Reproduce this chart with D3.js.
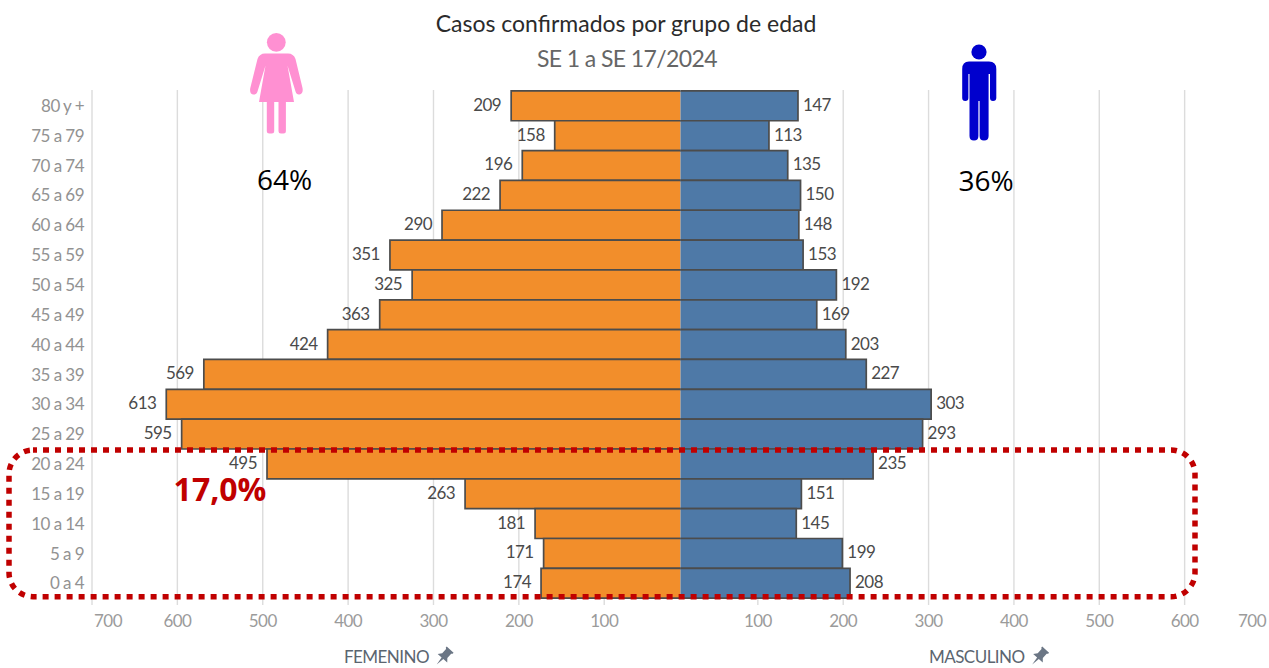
<!DOCTYPE html>
<html>
<head>
<meta charset="utf-8">
<script src="https://cdn.jsdelivr.net/npm/d3@7"></script>
<style>
  html, body { margin: 0; padding: 0; background: #fff; overflow: hidden; }
  svg { display: block; }
  text { font-family: Lato, "Noto Sans", sans-serif; }
</style>
</head>
<body>
<svg id="chart" width="1269" height="668"></svg>
<script>
// Data, top row first
const grupos = ["80 y +", "75 a 79", "70 a 74", "65 a 69", "60 a 64", "55 a 59", "50 a 54", "45 a 49", "40 a 44",
  "35 a 39", "30 a 34", "25 a 29", "20 a 24", "15 a 19", "10 a 14", "5 a 9", "0 a 4"];
const femenino = [209, 158, 196, 222, 290, 351, 325, 363, 424, 569, 613, 595, 495, 263, 181, 171, 174];
const masculino = [147, 113, 135, 150, 148, 153, 192, 169, 203, 227, 303, 293, 235, 151, 145, 199, 208];
const ticks = [100, 200, 300, 400, 500, 600, 700];

const titulo = "Casos confirmados por grupo de edad";
const subtitulo = "SE 1 a SE 17/2024";

const svg = d3.select("#chart");

// the two panes have their own zero, both run past the line where the colours meet
const xFem = d3.scaleLinear().domain([0, 700]).range([689.6, 92]);
const xMas = d3.scaleLinear().domain([0, 700]).range([672.5, 1270]);
const y = d3.scaleBand().domain(grupos).range([90.9, 598.2]);
const centro = 680.5;

const gridTop = 90, gridBottom = 605;

function drawAxis(scale) {
  const g = svg.append("g")
    .attr("transform", "translate(0," + gridBottom + ")")
    .call(d3.axisBottom(scale).offset(0).tickValues(ticks).tickSize(-(gridBottom - gridTop)).tickFormat(d3.format("d")));
  g.select(".domain").remove();
  g.selectAll("line").attr("stroke", "#dcdcdc").attr("stroke-width", 1.4);
  g.selectAll("text")
    .attr("y", 16.5)
    .attr("dy", "0.35em")
    .attr("fill", "#9b9b9b")
    .style("font-size", "17px")
    .style("letter-spacing", "-0.55px")
    .style("font-family", "Lato");
  return g;
}

const axisFem = drawAxis(xFem);
const axisMas = drawAxis(xMas);

// end labels are pushed back inside the picture
axisFem.selectAll("text").filter(d => d === 700).attr("x", 16);
axisMas.selectAll("text").filter(d => d === 700).attr("x", -18);

// Bars, no stroke on the side that touches the middle
function barPath(x0, i) {
  const top = y(grupos[i]), h = y.bandwidth();
  return "M" + centro + "," + top + "H" + x0 + "V" + (top + h) + "H" + centro;
}

svg.append("g").selectAll("path")
  .data(femenino)
  .enter().append("path")
  .attr("d", (d, i) => barPath(xFem(d), i))
  .attr("fill", "#f28e2b")
  .attr("stroke", "#4c4c4c")
  .attr("stroke-width", 1.7);

svg.append("g").selectAll("path")
  .data(masculino)
  .enter().append("path")
  .attr("d", (d, i) => barPath(xMas(d), i))
  .attr("fill", "#4e79a7")
  .attr("stroke", "#4c4c4c")
  .attr("stroke-width", 1.7);

// Value labels
svg.append("g").selectAll("text")
  .data(femenino)
  .enter().append("text")
  .attr("x", d => xFem(d) - 10)
  .attr("y", (d, i) => y(grupos[i]) + y.bandwidth() / 2 - 1)
  .attr("dy", "0.35em")
  .attr("text-anchor", "end")
  .attr("fill", "#4a4a4a")
  .style("font-size", "17px")
  .style("letter-spacing", "-0.55px")
  .text(d => d);

svg.append("g").selectAll("text")
  .data(masculino)
  .enter().append("text")
  .attr("x", d => xMas(d) + 5)
  .attr("y", (d, i) => y(grupos[i]) + y.bandwidth() / 2 - 1)
  .attr("dy", "0.35em")
  .attr("fill", "#4a4a4a")
  .style("font-size", "17px")
  .style("letter-spacing", "-0.55px")
  .text(d => d);

// Age groups
const axisY = svg.append("g")
  .attr("transform", "translate(84,0.7)")
  .call(d3.axisLeft(y).tickSize(0).tickPadding(0));
axisY.select(".domain").remove();
axisY.selectAll("text")
  .attr("fill", "#929292")
  .style("font-size", "17px")
  .style("letter-spacing", "-0.55px")
  .style("font-family", "Lato");

// Titles
svg.append("text").attr("x", 626).attr("y", 32).attr("text-anchor", "middle")
  .attr("fill", "#2b2b2b").style("font-size", "23px").text(titulo);
svg.append("text").attr("x", 627).attr("y", 67).attr("text-anchor", "middle")
  .attr("fill", "#666").style("font-size", "23px").style("letter-spacing", "-0.6px").text(subtitulo);

// Pane names with the pin
const pin = "M-4,-8H4V-6.8L3,-6V-1L5.6,2H1L0,9.5L-1,2H-5.6L-3,-1V-6L-4,-6.8Z";
function paneName(name, x, pinX) {
  svg.append("text").attr("x", x).attr("y", 663).attr("fill", "#5b6570")
    .style("font-size", "17px").style("letter-spacing", "-0.55px").text(name);
  svg.append("path").attr("d", pin).attr("fill", "#6b7685")
    .attr("transform", "translate(" + pinX + ",656.5) rotate(42) scale(1.15)");
}
paneName("FEMENINO", 344, 444);
paneName("MASCULINO", 929, 1039.5);

// Woman
const mujer = svg.append("g").attr("fill", "#ff90d2");
mujer.append("circle").attr("cx", 276.3).attr("cy", 42.3).attr("r", 9.4);
mujer.append("path").attr("d", "M265,53.5H288Q293.5,53.5 295.5,59L302.5,88Q303.5,93.5 299.5,94.5Q296.5,95 295.5,91.5" +
  "L287.5,65.5L294,102H259L265.5,65.5L257.5,91.5Q256.5,95 253,94.5Q249.3,93.5 250.3,88L257.5,59Q259.5,53.5 265,53.5Z");
mujer.append("rect").attr("x", 266.8).attr("y", 100).attr("width", 7.4).attr("height", 33.5).attr("rx", 2.5);
mujer.append("rect").attr("x", 278.5).attr("y", 100).attr("width", 7.4).attr("height", 33.5).attr("rx", 2.5);

// Man
const hombre = svg.append("g").attr("fill", "#0000cd");
hombre.append("circle").attr("cx", 979).attr("cy", 52).attr("r", 7.6);
hombre.append("path").attr("d", "M969,61.5H989Q996.3,61.5 996.3,69V98Q996.3,101 993,101Q990,101 990,98V74H988.6V136" +
  "Q988.6,140.5 984,140.5Q979.6,140.5 979.6,136V101H978.4V136Q978.4,140.5 974,140.5Q969.5,140.5 969.5,136V74H968.4V98" +
  "Q968.4,101 965.3,101Q962.2,101 962.2,98V69Q962.2,61.5 969,61.5Z");

// Shares
svg.append("text").attr("x", 284.5).attr("y", 190).attr("text-anchor", "middle")
  .attr("fill", "#000").style("font-family", "Open Sans").style("font-size", "28px").text("64%");
svg.append("text").attr("x", 986).attr("y", 191).attr("text-anchor", "middle")
  .attr("fill", "#000").style("font-family", "Open Sans").style("font-size", "28px").text("36%");

// Dotted box on the younger groups
svg.append("rect")
  .attr("x", 9).attr("y", 450).attr("width", 1186).attr("height", 146.7)
  .attr("rx", 24).attr("ry", 24)
  .attr("fill", "none")
  .attr("stroke", "#c00000")
  .attr("stroke-width", 5.5)
  .attr("stroke-dasharray", "6 6")
  .attr("stroke-dashoffset", 2);

svg.append("text").attr("x", 220).attr("y", 501).attr("text-anchor", "middle")
  .attr("fill", "#c00000").style("font-family", "Open Sans").style("font-weight", 700)
  .style("font-size", "32px").text("17,0%");
</script>
</body>
</html>
